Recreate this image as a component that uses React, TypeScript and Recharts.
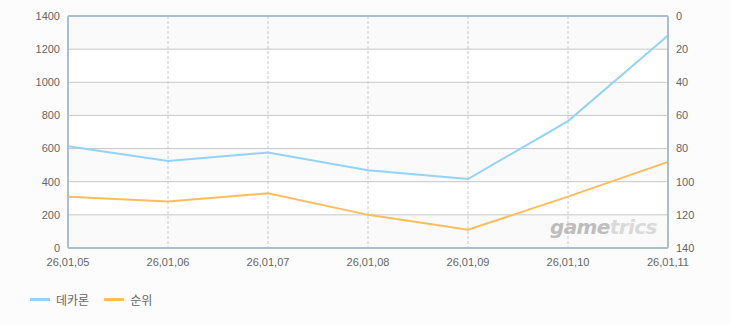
import React from "react";
import {
  LineChart,
  Line,
  XAxis,
  YAxis,
  CartesianGrid,
  ReferenceLine,
} from "recharts";

const dates = ["26,01,05", "26,01,06", "26,01,07", "26,01,08", "26,01,09", "26,01,10", "26,01,11"];
const dekaron = [614, 525, 576, 469, 416, 766, 1283];
const rank = [109, 112, 107, 120, 129, 109, 88];
const leftTicks = [0, 200, 400, 600, 800, 1000, 1200, 1400];
const rightTicks = [0, 20, 40, 60, 80, 100, 120, 140];

const BLUE = "#93d3f3";
const ORANGE = "#fdbd5c";
const AXIS = "#aabdd2";
const TICK = { fontSize: 11, fill: "#666", fontFamily: "'Liberation Sans', Arial, sans-serif" };

const data = dates.map((d, i) => ({ date: d, dekaron: dekaron[i], rank: rank[i] }));

export default function App() {
  return (
    <div
      style={{
        position: "fixed",
        left: 0,
        top: 0,
        width: 730,
        height: 325,
        background: "#fcfcfc",
        fontFamily: "'Noto Sans CJK KR', sans-serif",
      }}
    >
      <LineChart
        width={730}
        height={325}
        data={data}
        margin={{ top: 16, right: 0, bottom: 47, left: 0 }}
      >
        <CartesianGrid
          yAxisId="left"
          stroke="#c8c8c8"
          vertical={false}
          horizontalFill={["#fafafa", "#ffffff"]}
          fillOpacity={1}
        />
        <CartesianGrid
          yAxisId="left"
          stroke="#c8c8c8"
          horizontal={false}
          strokeDasharray="3 2"
        />
        <XAxis
          dataKey="date"
          height={30}
          tick={TICK}
          tickLine={false}
          axisLine={{ stroke: AXIS, strokeWidth: 2 }}
          interval={0}
          tickMargin={4}
        />
        <YAxis
          yAxisId="left"
          width={68}
          domain={[0, 1400]}
          ticks={leftTicks}
          tick={TICK}
          tickLine={false}
          axisLine={{ stroke: AXIS, strokeWidth: 2 }}
          tickMargin={2}
        />
        <YAxis
          yAxisId="right"
          orientation="right"
          width={62}
          domain={[0, 140]}
          reversed
          ticks={rightTicks}
          tick={{ ...TICK, textAnchor: "start" }}
          tickLine={false}
          axisLine={{ stroke: AXIS, strokeWidth: 2 }}
          tickMargin={2}
        />
        <ReferenceLine yAxisId="left" y={1400} stroke={AXIS} strokeWidth={2} />
        <Line
          yAxisId="left"
          dataKey="dekaron"
          type="linear"
          stroke={BLUE}
          strokeWidth={2}
          dot={false}
          isAnimationActive={false}
        />
        <Line
          yAxisId="right"
          dataKey="rank"
          type="linear"
          stroke={ORANGE}
          strokeWidth={2}
          dot={false}
          isAnimationActive={false}
        />
      </LineChart>
      <div
        style={{
          position: "absolute",
          left: 550,
          top: 215,
          fontFamily: "'DejaVu Sans', sans-serif",
          fontStyle: "italic",
          fontWeight: "bold",
          fontSize: 20,
          letterSpacing: -0.6,
        }}
      >
        <span style={{ color: "#bdbdbd" }}>game</span>
        <span style={{ color: "#d9d9d9" }}>trics</span>
      </div>
      <div
        style={{
          position: "absolute",
          left: 30,
          top: 291,
          display: "flex",
          alignItems: "center",
          fontSize: 12,
          color: "#666",
        }}
      >
        <span style={{ width: 20, height: 3, background: BLUE, marginRight: 6 }} />
        <span style={{ marginRight: 15 }}>데카론</span>
        <span style={{ width: 20, height: 3, background: ORANGE, marginRight: 6 }} />
        <span>순위</span>
      </div>
    </div>
  );
}
